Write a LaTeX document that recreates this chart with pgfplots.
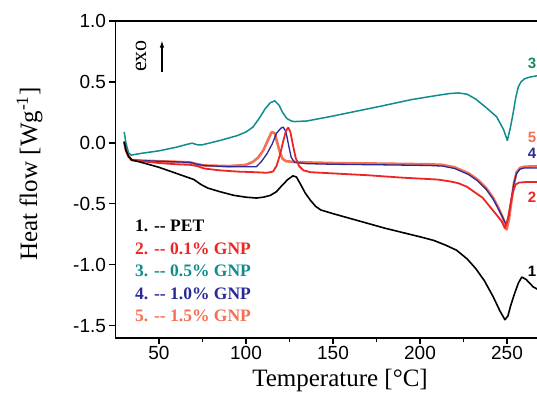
\documentclass[border=0pt]{standalone}
\usepackage{fontspec}
\setmainfont{Liberation Serif}
\newfontfamily\arialf{Liberation Sans}
\usepackage{pgfplots}
\pgfplotsset{compat=1.18}
\usetikzlibrary{arrows.meta}
\definecolor{cred}{RGB}{236,38,36}
\definecolor{cteal}{RGB}{16,140,140}
\definecolor{cgreen}{RGB}{20,140,90}
\definecolor{cblue}{RGB}{42,42,150}
\definecolor{corange}{RGB}{245,112,82}
\begin{document}
\begin{tikzpicture}
\begin{axis}[
  scale only axis, width=443.7pt, height=317pt,
  xmin=25, xmax=280, ymin=-1.6, ymax=1.0,
  clip=false,
  axis line style={line width=1.5pt},
  tick style={line width=1.2pt, black},
  major tick length=6pt, minor tick length=4pt,
  tick align=outside, tick pos=left,
  xtick={50,100,150,200,250}, minor x tick num=1,
  ytick={-1.5,-1,-0.5,0,0.5,1}, minor y tick num=0,
  tick label style={font=\arialf\fontsize{19}{21}\selectfont},
  xticklabel style={yshift=1pt},
  /pgf/number format/assume math mode=true,
  yticklabel style={/pgf/number format/.cd, fixed, fixed zerofill, precision=1},
  every axis y label/.style={at={(axis description cs:0,0.517)}, xshift=-86pt, anchor=center, rotate=90, font=\fontsize{25}{28}\selectfont},
  every axis x label/.style={at={(axis description cs:0.506,0)}, yshift=-42pt, anchor=center, font=\fontsize{25}{28}\selectfont},
  xlabel={Temperature [\textdegree C]},
  ylabel={Heat flow [Wg\textsuperscript{-1}]},
]
% curve 5 (1.5% GNP)
\addplot[corange, line width=2.6pt, line join=round] coordinates {
(30,0.01) (31,-0.06) (32.5,-0.11) (34.3,-0.14) (40,-0.145) (50,-0.15) (60,-0.155) (68,-0.16) (72,-0.175) (76,-0.185) (90,-0.19) (100,-0.18) (104,-0.155) (107,-0.12) (110,-0.06) (112.5,0.02) (114.8,0.09) (116.5,0.08) (118,0.0) (119.5,-0.08) (121,-0.13) (123,-0.15) (127,-0.155) (135,-0.16) (150,-0.165) (180,-0.17) (205,-0.175) (213,-0.18) (220,-0.2) (228,-0.25) (233,-0.30) (238,-0.37) (242,-0.45) (245,-0.53) (247.5,-0.61) (249.8,-0.71) (251.2,-0.62) (252.7,-0.46) (254,-0.33) (255.5,-0.24) (257.5,-0.205) (260,-0.195) (270,-0.19)
};
% curve 4 (1.0% GNP)
\addplot[cblue, line width=1.3pt, line join=round] coordinates {
(30,0.01) (31,-0.06) (32.5,-0.11) (34.3,-0.14) (40,-0.145) (50,-0.15) (60,-0.155) (68,-0.16) (72,-0.175) (76,-0.185) (90,-0.195) (100,-0.195) (106,-0.195) (109,-0.15) (112,-0.09) (115,-0.01) (117.6,0.08) (120,0.12) (121.4,0.13) (123,0.09) (124.5,-0.02) (126,-0.12) (128,-0.16) (135,-0.17) (150,-0.175) (180,-0.18) (205,-0.185) (213,-0.19) (220,-0.21) (228,-0.26) (233,-0.31) (238,-0.38) (242,-0.46) (245,-0.54) (247.5,-0.61) (249.5,-0.67) (251,-0.60) (252.5,-0.46) (254,-0.33) (255.5,-0.25) (257.5,-0.215) (260,-0.205) (270,-0.205)
};
% curve 2 (0.1% GNP)
\addplot[cred, line width=1.8pt, line join=round] coordinates {
(30,0.01) (31,-0.06) (32.5,-0.11) (34.3,-0.14) (40,-0.15) (50,-0.165) (60,-0.175) (68,-0.18) (72,-0.19) (76,-0.21) (85,-0.225) (95,-0.235) (105,-0.24) (112,-0.245) (115.5,-0.235) (117.5,-0.19) (119.5,-0.10) (121.5,0.02) (123,0.10) (124.3,0.125) (125.5,0.09) (127,-0.02) (128.5,-0.12) (130.5,-0.19) (133,-0.225) (137,-0.24) (150,-0.25) (170,-0.265) (190,-0.285) (210,-0.30) (217,-0.315) (222,-0.33) (227,-0.36) (231,-0.40) (236,-0.45) (240,-0.52) (244,-0.59) (247,-0.645) (248.8,-0.70) (250.5,-0.62) (252,-0.50) (253.5,-0.40) (255,-0.34) (257,-0.325) (262,-0.32) (270,-0.32)
};
% curve 3 (0.5% GNP)
\addplot[cteal, line width=1.5pt, line join=round] coordinates {
(30,0.09) (31,0.0) (32.5,-0.08) (34,-0.10) (40,-0.085) (50,-0.065) (60,-0.035) (66,-0.012) (69,-0.002) (72,-0.015) (75,-0.015) (85,0.02) (95,0.06) (100,0.09) (104,0.13) (108,0.21) (111,0.28) (114,0.33) (116.5,0.345) (119,0.31) (121,0.25) (123.5,0.20) (126,0.18) (128,0.175) (135,0.18) (148,0.215) (160,0.25) (177,0.30) (195,0.355) (210,0.39) (217,0.405) (222,0.41) (227,0.40) (232,0.36) (238,0.29) (244,0.215) (248,0.11) (250.2,0.02) (252,0.13) (253.6,0.25) (255,0.37) (256.5,0.46) (258,0.50) (260,0.525) (263,0.54) (267,0.55) (270,0.555)
};
% curve 1 (PET)
\addplot[black, line width=1.6pt, line join=round] coordinates {
(30,0.01) (31,-0.06) (32.5,-0.11) (34.3,-0.14) (40,-0.16) (50,-0.2) (60,-0.25) (70,-0.3) (74,-0.34) (78,-0.37) (85,-0.40) (93,-0.43) (100,-0.445) (106,-0.452) (110,-0.445) (114,-0.43) (117.5,-0.40) (120,-0.36) (124,-0.30) (127,-0.27) (129,-0.28) (131,-0.33) (134,-0.41) (137,-0.47) (140,-0.52) (143,-0.55) (150,-0.58) (160,-0.62) (170,-0.66) (180,-0.70) (190,-0.735) (200,-0.77) (208,-0.80) (215,-0.84) (221,-0.88) (227,-0.95) (232,-1.03) (237,-1.13) (242,-1.26) (246,-1.38) (248.8,-1.45) (250.5,-1.42) (252,-1.34) (254,-1.25) (256.5,-1.15) (258.5,-1.10) (261,-1.12) (265,-1.18) (270,-1.22)
};
% legend text
\begin{scope}[every node/.style={anchor=west, inner sep=0pt, font=\bfseries\fontsize{17.5}{20}\selectfont}]
\node[text=black] at (axis cs:36.2,-0.680) {1. -{}- PET};
\node[text=cred] at (axis cs:36.2,-0.865) {2. -{}- 0.1\% GNP};
\node[text=cteal] at (axis cs:36.2,-1.049) {3. -{}- 0.5\% GNP};
\node[text=cblue] at (axis cs:36.2,-1.234) {4. -{}- 1.0\% GNP};
\node[text=corange] at (axis cs:36.2,-1.418) {5. -{}- 1.5\% GNP};
\end{scope}
% curve numbers on the right
\begin{scope}[every node/.style={anchor=east, inner sep=0pt, font=\arialf\bfseries\fontsize{15}{17}\selectfont}]
\node[text=cgreen] at (axis cs:266.9,0.656) {3};
\node[text=corange] at (axis cs:266.9,0.049) {5};
\node[text=cblue] at (axis cs:266.9,-0.082) {4};
\node[text=cred] at (axis cs:266.9,-0.443) {2};
\node[text=black] at (axis cs:266.9,-1.057) {1};
\end{scope}
\node[rotate=90, font=\fontsize{22}{24}\selectfont] at (axis cs:39.7,0.713) {exo};
\draw[line width=1.2pt, -{Latex[length=7pt,width=4.5pt]}] (axis cs:51.7,0.58) -- (axis cs:51.7,0.84);
\end{axis}
\pgfresetboundingbox
\useasboundingbox (-115.5pt,-56pt) rectangle (421.5pt,338pt);
\end{tikzpicture}
\end{document}
